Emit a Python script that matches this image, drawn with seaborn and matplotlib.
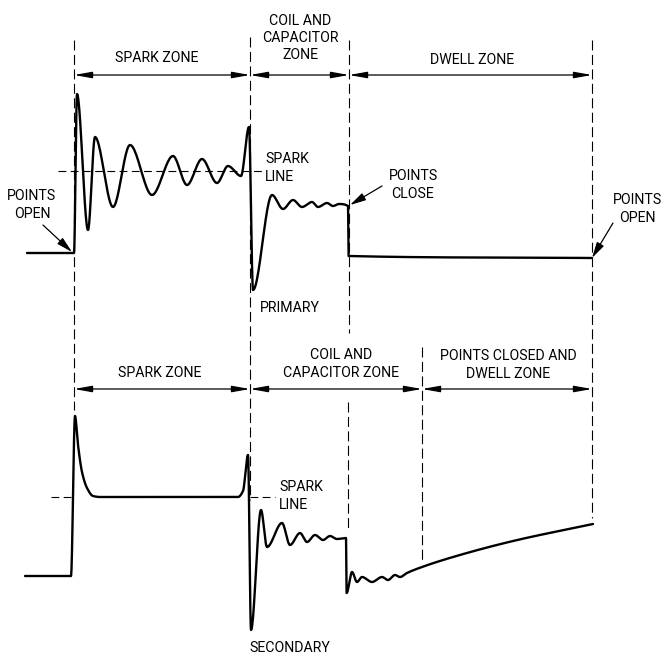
import numpy as np
import matplotlib
matplotlib.use("Agg")
import matplotlib.pyplot as plt
import seaborn as sns

# ---------------- data (pixel frame, y downwards) ----
PRIMARY_X = [27, 73, 74, 77, 88, 95, 113, 130, 152, 173, 187, 202, 217, 228, 241,
             249, 253, 272, 283, 293, 302, 312, 318, 327, 333, 339, 348, 348.6, 592]
PRIMARY_Y = [253, 253, 253, 94, 230, 137, 207, 145, 195, 156, 185, 159, 183, 166, 176,
             127, 290, 195, 209, 200, 207, 202, 207, 203, 206, 204, 206, 256, 258]

SECONDARY_X = [25, 71, 75, 78, 82, 87, 93, 100, 238, 243, 248, 251, 261, 267, 282, 290,
               300, 307, 315, 323, 330, 337, 346, 346.6, 352, 357, 362, 372, 382, 388,
               395, 400, 407, 422, 453, 513, 593]
SECONDARY_Y = [576, 576, 416, 445, 472, 488, 496, 497, 497, 491, 455, 630, 510, 547, 523, 545,
               533, 542, 535, 540, 536, 539, 538, 593, 572, 582, 577, 582, 577, 580,
               575, 577, 573, 567, 557, 541, 524]

SPARK_LINE_Y = [171, 497]
ZONE_X_TOP = [74, 250, 349, 592]
ZONE_X_BOTTOM = [74, 250, 422, 592]
ZONE_TEXT_TOP = ["SPARK ZONE", "COIL AND\nCAPACITOR\nZONE", "DWELL ZONE"]
ZONE_TEXT_BOTTOM = ["SPARK ZONE", "COIL AND\nCAPACITOR ZONE", "POINTS CLOSED AND\nDWELL ZONE"]


def pchip(x, y, per=24):
    x = np.asarray(x, float)
    y = np.asarray(y, float)
    h = np.diff(x)
    d = np.diff(y) / h
    m = np.zeros_like(x)
    for k in range(1, len(x) - 1):
        if d[k - 1] * d[k] > 0:
            w1 = 2 * h[k] + h[k - 1]
            w2 = h[k] + 2 * h[k - 1]
            m[k] = (w1 + w2) / (w1 / d[k - 1] + w2 / d[k])
    m[0] = 0.0
    m[-1] = d[-1]
    xs, ys = [], []
    for k in range(len(x) - 1):
        t = np.linspace(0, 1, per, endpoint=False)
        h00 = 2 * t**3 - 3 * t**2 + 1
        h10 = t**3 - 2 * t**2 + t
        h01 = -2 * t**3 + 3 * t**2
        h11 = t**3 - t**2
        xs.append(x[k] + t * h[k])
        ys.append(h00 * y[k] + h10 * h[k] * m[k] + h01 * y[k + 1] + h11 * h[k] * m[k + 1])
    xs.append([x[-1]])
    ys.append([y[-1]])
    return np.concatenate(xs), np.concatenate(ys)


sns.set_theme(style="white")
plt.rcParams["font.family"] = ["Roboto", "DejaVu Sans"]

fig = plt.figure(figsize=(6.63, 6.58), dpi=100)
ax = fig.add_axes([0, 0, 1, 1])
ax.set_xlim(0, 663)
ax.set_ylim(658, 0)
ax.axis("off")

K = "black"
DASH = (0, (9, 4))
LW_D = 0.8
FS = 10.2

# waveforms
for xs, ys in [(PRIMARY_X, PRIMARY_Y), (SECONDARY_X, SECONDARY_Y)]:
    sx, sy = pchip(xs, ys)
    sns.lineplot(x=sx, y=sy, sort=False, estimator=None, color=K, lw=1.7, ax=ax)

# vertical dashed zone boundaries
for x0, y0, y1 in [(74, 40, 410), (250, 37, 500), (349, 40, 333), (592, 40, 518),
                   (348, 402, 532), (422, 347, 560)]:
    ax.plot([x0, x0], [y0, y1], color=K, lw=LW_D, ls=DASH)

# spark lines
ax.plot([58, 262], [SPARK_LINE_Y[0]] * 2, color=K, lw=LW_D, ls=(0, (7, 4)))
ax.plot([51, 75], [SPARK_LINE_Y[1]] * 2, color=K, lw=LW_D, ls=(0, (7, 4)))
ax.plot([250, 275], [SPARK_LINE_Y[1]] * 2, color=K, lw=LW_D, ls=(0, (7, 4)))

# dimension arrows
arr = dict(arrowstyle="<|-|>,head_length=0.9,head_width=0.16", color=K, lw=0.9,
           shrinkA=0, shrinkB=0)
for xs_, yy in [(ZONE_X_TOP, 75), (ZONE_X_BOTTOM, 389)]:
    for a, b in zip(xs_[:-1], xs_[1:]):
        ax.annotate("", xy=(b, yy), xytext=(a, yy), arrowprops=arr)

tk = dict(color=K, fontsize=FS, ha="center", va="center", linespacing=1.3)
# top zone labels
ax.text(157, 58, ZONE_TEXT_TOP[0], **tk)
ax.text(300, 38, ZONE_TEXT_TOP[1], **tk)
ax.text(472, 60, ZONE_TEXT_TOP[2], **tk)
# bottom zone labels
ax.text(160, 373, ZONE_TEXT_BOTTOM[0], **tk)
ax.text(341, 364, ZONE_TEXT_BOTTOM[1], **tk)
ax.text(508, 365, ZONE_TEXT_BOTTOM[2], **tk)

# annotations
tl = dict(color=K, fontsize=FS, va="center", linespacing=1.3)
ax.text(265, 168, "SPARK\nLINE", ha="left", **tl)
ax.text(279, 496, "SPARK\nLINE", ha="left", **tl)
ax.text(260, 308, "PRIMARY", ha="left", **tl)
ax.text(249, 648, "SECONDARY", ha="left", **tl)
ax.text(32, 205, "POINTS\nOPEN", ha="center", **tl)
ax.text(413, 185, "POINTS\nCLOSE", ha="center", **tl)
ax.text(637, 209, "POINTS\nOPEN", ha="center", **tl)

pt = dict(arrowstyle="-|>,head_length=0.8,head_width=0.2", color=K, lw=0.9,
          shrinkA=0, shrinkB=0)
ax.annotate("", xy=(72, 252), xytext=(43, 225), arrowprops=pt)
ax.annotate("", xy=(350, 205), xytext=(382, 186), arrowprops=pt)
ax.annotate("", xy=(592, 258), xytext=(613, 223), arrowprops=pt)

fig.savefig("out.png", dpi=100, facecolor="white")
